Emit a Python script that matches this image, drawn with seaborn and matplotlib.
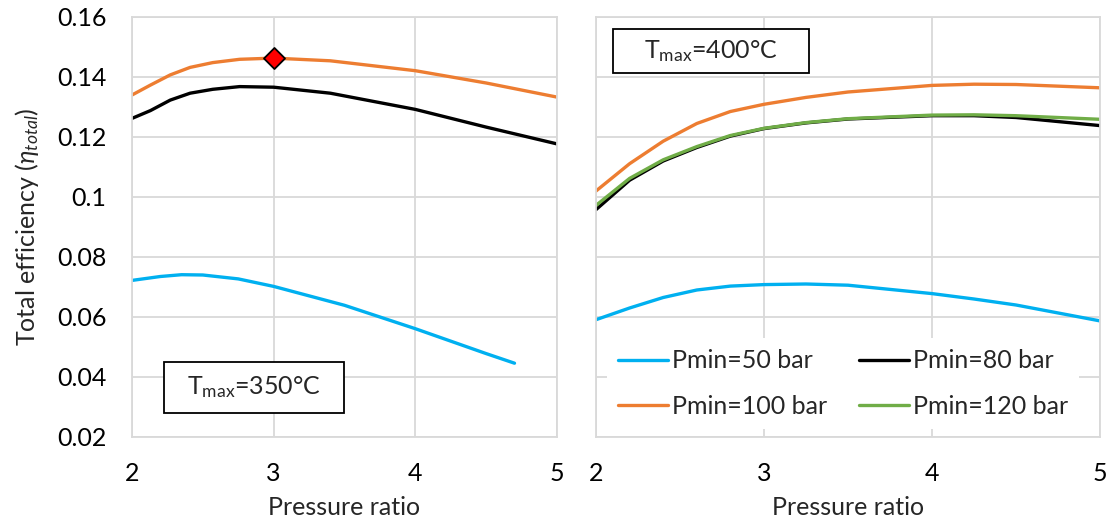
import numpy as np
import pandas as pd
import matplotlib
matplotlib.use("Agg")
import matplotlib.pyplot as plt
from matplotlib.patches import Rectangle
from matplotlib.ticker import MultipleLocator, FuncFormatter
import seaborn as sns

# ---------------- data ----------------
series_labels = ["Pmin=50 bar", "Pmin=80 bar", "Pmin=100 bar", "Pmin=120 bar"]
series_colors = ["#00B0F0", "#000000", "#ED7D31", "#70AD47"]

# Left panel: Tmax = 350 C
left_x = [2.0, 2.13, 2.27, 2.41, 2.57, 2.76, 3.0, 3.4, 4.0, 4.5, 5.0]
left_p80 = [0.1262, 0.1288, 0.1323, 0.1346, 0.1359, 0.1368, 0.1366, 0.1346, 0.1292, 0.1233, 0.1177]
left_p100 = [0.1340, 0.1373, 0.1407, 0.1432, 0.1448, 0.1459, 0.1463, 0.1454, 0.1421, 0.1380, 0.1333]
left_p50_x = [2.0, 2.2, 2.35, 2.5, 2.75, 3.0, 3.5, 4.0, 4.5, 4.7]
left_p50 = [0.0722, 0.0735, 0.0741, 0.0740, 0.0727, 0.0702, 0.0639, 0.0561, 0.0478, 0.0446]

# Right panel: Tmax = 400 C
right_x = [2.0, 2.2, 2.4, 2.6, 2.8, 3.0, 3.25, 3.5, 4.0, 4.25, 4.5, 5.0]
right_p50 = [0.0591, 0.0630, 0.0665, 0.0690, 0.0703, 0.0708, 0.0710, 0.0706, 0.0678, 0.0660, 0.0640, 0.0587]
right_p80 = [0.0958, 0.1056, 0.1120, 0.1165, 0.1203, 0.1228, 0.1247, 0.1260, 0.1271, 0.1271, 0.1265, 0.1238]
right_p100 = [0.1020, 0.1111, 0.1186, 0.1245, 0.1285, 0.1309, 0.1332, 0.1350, 0.1372, 0.1376, 0.1375, 0.1364]
right_p120 = [0.0972, 0.1062, 0.1124, 0.1168, 0.1205, 0.1229, 0.1248, 0.1261, 0.1273, 0.1274, 0.1271, 0.1259]

# optimum point
opt_x = [3.0]
opt_y = [0.1463]

x_ticks = [2, 3, 4, 5]
y_ticks = [0.02, 0.04, 0.06, 0.08, 0.10, 0.12, 0.14, 0.16]

# ---------------- style ----------------
sns.set_theme(style="white")
plt.rcParams["font.family"] = ["Lato", "DejaVu Sans"]
plt.rcParams["mathtext.fontset"] = "custom"
plt.rcParams["mathtext.rm"] = "Lato"
plt.rcParams["mathtext.it"] = "Lato:italic"
plt.rcParams["mathtext.fallback"] = "stixsans"

FS = 18
GRID = "#d9d9d9"

def long_df(x_lists, y_lists, labels):
    rows = []
    for xs, ys, lab in zip(x_lists, y_lists, labels):
        for xv, yv in zip(xs, ys):
            rows.append({"ratio": xv, "eff": yv, "series": lab})
    return pd.DataFrame(rows)

df_left = long_df([left_p50_x, left_x, left_x],
                  [left_p50, left_p80, left_p100],
                  series_labels[:3])
df_right = long_df([right_x] * 4,
                   [right_p50, right_p80, right_p100, right_p120],
                   series_labels)
palette = dict(zip(series_labels, series_colors))

fig = plt.figure(figsize=(11.11, 5.24), dpi=100)
ax_l = fig.add_axes([132 / 1111, 1 - 437 / 524, 425 / 1111, 420 / 524])
ax_r = fig.add_axes([596 / 1111, 1 - 437 / 524, 504 / 1111, 420 / 524])

sns.lineplot(data=df_left, x="ratio", y="eff", hue="series", hue_order=series_labels[:3],
             palette=palette, estimator=None, sort=False, lw=2.4, legend=False, ax=ax_l)
sns.lineplot(data=df_right, x="ratio", y="eff", hue="series", hue_order=series_labels,
             palette=palette, estimator=None, sort=False, lw=2.4, legend=False, ax=ax_r)
sns.scatterplot(x=opt_x, y=opt_y, marker="D", s=115, color="#FF0000", edgecolor="black",
                linewidth=1.3, zorder=5, ax=ax_l, legend=False)

for ax in (ax_l, ax_r):
    ax.set_xlim(2, 5)
    ax.set_ylim(0.02, 0.16)
    ax.set_xticks(x_ticks)
    ax.set_yticks(y_ticks)
    ax.xaxis.set_minor_locator(MultipleLocator(0.2))
    ax.grid(True, which="major", color=GRID, lw=1.3)
    ax.set_axisbelow(True)
    for sp in ax.spines.values():
        sp.set_color(GRID)
        sp.set_linewidth(1.3)
    ax.tick_params(axis="x", which="major", direction="out", length=5, width=1.2,
                   color=GRID, labelsize=FS, pad=13, labelcolor="black")
    ax.tick_params(axis="x", which="minor", direction="out", length=4, width=1.2, color=GRID)
    ax.set_xlabel("Pressure ratio", fontsize=FS)
    ax.xaxis.set_label_coords(0.5, -0.14)
    ax.xaxis.set_major_formatter(FuncFormatter(lambda v, p: f"{v:g}"))

ax_l.yaxis.set_minor_locator(MultipleLocator(0.004))
ax_l.yaxis.set_major_formatter(FuncFormatter(lambda v, p: f"{v:g}"))
ax_l.tick_params(axis="y", which="major", direction="out", length=6.5, width=1.2,
                 color=GRID, labelsize=FS, pad=12, labelcolor="black")
ax_l.tick_params(axis="y", which="minor", direction="out", length=4, width=1.2, color=GRID)
ax_l.set_ylabel(r"Total efficiency ($\eta_{total}$)", fontsize=FS)
ax_l.yaxis.set_label_coords(-0.215, 0.5)

ax_r.tick_params(axis="y", which="both", left=False, labelleft=False)
ax_r.set_ylabel("")

# annotation boxes (axes-fraction placement)
for ax, (x0, y0, x1, y1), txt in [
        (ax_l, (0.0753, 0.0571, 0.4988, 0.1786), r"T$_{\mathregular{max}}$=350°C"),
        (ax_r, (0.0337, 0.8667, 0.4226, 0.9714), r"T$_{\mathregular{max}}$=400°C")]:
    ax.add_patch(Rectangle((x0, y0), x1 - x0, y1 - y0, transform=ax.transAxes,
                           facecolor="white", edgecolor="black", linewidth=1.3, zorder=6))
    ax.text((x0 + x1) / 2, (y0 + y1) / 2, txt, transform=ax.transAxes, fontsize=FS,
            ha="center", va="center", zorder=7)

lines = ax_r.get_lines()[:4]
order = [0, 2, 1, 3]
leg = ax_r.legend([lines[i] for i in order], [series_labels[i] for i in order],
                  ncol=2, loc="center", bbox_to_anchor=(0.49, 0.127), fontsize=FS,
                  frameon=True, fancybox=False, framealpha=1, facecolor="white",
                  edgecolor="none", handlelength=2.0, handletextpad=0.15,
                  columnspacing=1.3, labelspacing=0.9, borderpad=0.45)

fig.savefig("out.png", dpi=100)
